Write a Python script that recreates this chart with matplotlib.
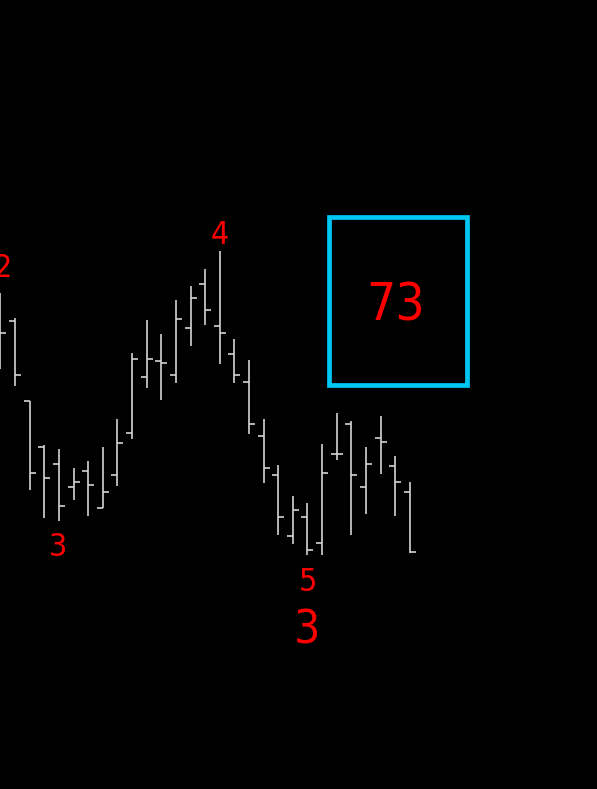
import matplotlib
matplotlib.use("Agg")
import matplotlib.pyplot as plt
from matplotlib import font_manager
from matplotlib.font_manager import FontProperties
from matplotlib.patches import Rectangle
import numpy as np
import os

# OHLC values (arbitrary price units)
opens = [490, 479, 399.3, 353, 336.3, 313, 329.3, 291.7, 324.7, 366.7,
         422.7, 439, 425, 471.7, 515.7, 474, 445.7, 417.7, 364.3, 324.7,
         264.3, 283, 257, 345.7, 376.3, 312.7, 361.7, 333.7, 308.3]
highs = [507.3, 482, 399.3, 355.3, 351, 332.3, 339.3, 353.3, 381, 446.7,
         479.7, 465.7, 500, 514, 530.7, 549, 461, 439.7, 381.3, 334.7,
         304.3, 297.3, 355.7, 386.7, 378.7, 353.3, 383.7, 344, 318.3]
lows = [431, 414.3, 310, 282, 279.3, 300.3, 284, 291.7, 314.3, 361,
        412, 400.3, 416.7, 454, 475, 435.7, 416.7, 365.7, 316.7, 265,
        256, 245, 245, 340, 265.3, 286.3, 326, 284, 247.3]
closes = [467, 425, 327, 322, 294.3, 317.7, 315.3, 308.3, 357.3, 441.3,
          441, 436.7, 481, 501.7, 490, 466.7, 425, 376, 331.7, 283,
          289.7, 249.7, 327, 345.7, 324.7, 336, 357.7, 317.7, 247.7]

wave_labels = ["2", "3", "4", "5"]
count_label = "3"
box_label = "73"

# look for a narrow font, the reference digits are condensed
prefer = ["LiberationSansNarrow-Regular", "DejaVuSansCondensed.ttf",
          "RobotoCondensed-Regular", "OpenSans_Condensed-Regular",
          "NotoSans-Condensed", "OpenSans-CondensedRegular"]
fp = None
files = [f.fname for f in font_manager.fontManager.ttflist]
for p in prefer:
    hits = [f for f in files if os.path.basename(f).startswith(p)]
    if hits:
        fp = FontProperties(fname=hits[0])
        break
if fp is None:
    fp = FontProperties(family="DejaVu Sans")


def lab(x, y, s, size):
    f = fp.copy()
    f.set_size(size)
    ax.text(x, y, s, color="#ff0000", fontproperties=f, ha="center", va="baseline")


fig = plt.figure(figsize=(5.97, 7.89), dpi=100, facecolor="black")
ax = fig.add_axes([0, 0, 1, 1])
ax.set_facecolor("black")

bar_col = "#d4d4d4"
lw = 1.2
tick = 0.41
x = np.arange(len(opens))
ax.vlines(x, lows, highs, color=bar_col, lw=lw)
ax.hlines(opens, x - tick, x, color=bar_col, lw=lw)
ax.hlines(closes, x, x + tick, color=bar_col, lw=lw)

# wave labels
lab(0.17, 522.7, wave_labels[0], 23)
lab(3.97, 244, wave_labels[1], 23)
lab(14.98, 556, wave_labels[2], 23)
lab(21.0, 209.3, wave_labels[3], 23)
lab(20.93, 156.7, count_label, 33)

# cyan box with number
ax.add_patch(Rectangle((22.45, 414.7), 31.9 - 22.45, 583.3 - 414.7,
                       fill=False, edgecolor="#00c8f5", lw=3.4))
lab(27.0, 480, box_label, 37)

ax.set_xlim(-0.03, 40.8)
ax.set_ylim(11, 800)
ax.axis("off")

fig.savefig("out.png", dpi=100, facecolor="black")
